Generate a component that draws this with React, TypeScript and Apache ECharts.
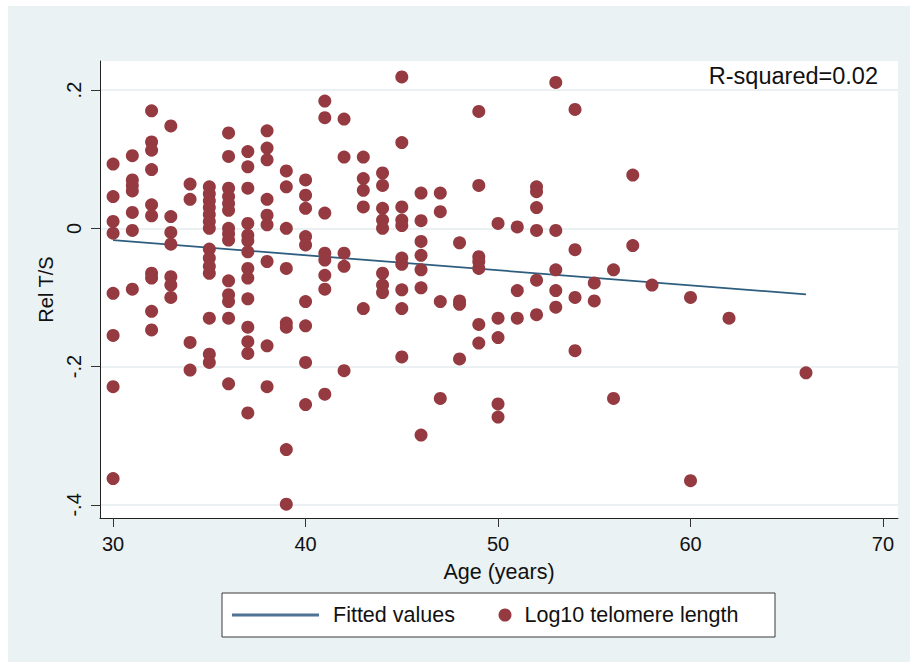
import React, { useEffect, useRef } from "react";
import * as echarts from "echarts";

// Axis ticks
const xTicks = [30, 40, 50, 60, 70];
const yTicks = [-0.4, -0.2, 0, 0.2];

// Ages (years) and the Rel T/S values observed at each age
const ages = [30, 31, 32, 33, 34, 35, 36, 37, 38, 39, 40, 41, 42, 43, 44, 45, 46, 47, 48, 49, 50, 51, 52, 53, 54, 55, 56, 57, 58, 60, 62, 66];
const relTSByAge = [
  [0.093, 0.046, 0.01, -0.007, -0.094, -0.155, -0.229, -0.362],
  [0.105, 0.07, 0.062, 0.054, 0.023, -0.003, -0.088],
  [0.17, 0.125, 0.113, 0.085, 0.034, 0.018, -0.065, -0.072, -0.12, -0.147],
  [0.148, 0.017, -0.006, -0.023, -0.07, -0.082, -0.1],
  [0.064, 0.042, -0.165, -0.205],
  [0.06, 0.05, 0.04, 0.03, 0.02, 0.01, 0.0, -0.03, -0.043, -0.055, -0.065, -0.13, -0.182, -0.194],
  [0.138, 0.104, 0.058, 0.046, 0.036, 0.026, 0.0, -0.008, -0.017, -0.076, -0.096, -0.106, -0.13, -0.225],
  [0.111, 0.089, 0.058, 0.007, -0.01, -0.018, -0.034, -0.058, -0.072, -0.102, -0.143, -0.164, -0.181, -0.267],
  [0.141, 0.116, 0.099, 0.042, 0.019, 0.005, -0.048, -0.17, -0.229],
  [0.083, 0.06, 0.0, -0.058, -0.137, -0.143, -0.32, -0.399],
  [0.07, 0.048, 0.029, -0.012, -0.024, -0.106, -0.141, -0.194, -0.255],
  [0.184, 0.16, 0.022, -0.036, -0.046, -0.068, -0.088, -0.24],
  [0.158, 0.103, -0.036, -0.055, -0.206],
  [0.103, 0.072, 0.055, 0.031, -0.116],
  [0.08, 0.062, 0.029, 0.012, 0.0, -0.065, -0.082, -0.093],
  [0.219, 0.124, 0.031, 0.012, 0.004, -0.043, -0.052, -0.089, -0.116, -0.186],
  [0.051, 0.011, -0.019, -0.039, -0.06, -0.086, -0.299],
  [0.051, 0.024, -0.106, -0.246],
  [-0.021, -0.105, -0.11, -0.189],
  [0.169, 0.062, -0.041, -0.048, -0.058, -0.139, -0.166],
  [0.007, -0.13, -0.158, -0.254, -0.273],
  [0.002, -0.09, -0.13],
  [0.06, 0.053, 0.03, -0.003, -0.075, -0.125],
  [0.211, -0.003, -0.06, -0.09, -0.114],
  [0.172, -0.031, -0.1, -0.177],
  [-0.079, -0.105],
  [-0.06, -0.246],
  [0.077, -0.025],
  [-0.082],
  [-0.1, -0.365],
  [-0.13],
  [-0.209],
];

// Fitted regression line (endpoints)
const fittedAges = [30, 66];
const fittedValues = [-0.0172, -0.0955];

const rSquaredLabel = "R-squared=0.02";
const xTitle = "Age (years)";
const yTitle = "Rel T/S";
const lineName = "Fitted values";
const pointName = "Log10 telomere length";

const FONT = "'Liberation Sans', Arial, Helvetica, sans-serif";

export default function App() {
  const ref = useRef<HTMLDivElement>(null);

  useEffect(() => {
    if (!ref.current) return;
    const chart = echarts.init(ref.current, null, { renderer: "svg" });

    const points: number[][] = [];
    ages.forEach((a, i) => relTSByAge[i].forEach((v) => points.push([a, v])));
    const fitted = fittedAges.map((a, i) => [a, fittedValues[i]]);

    const yFmt = (v: number) => {
      if (Math.abs(v) < 1e-9) return "0";
      const s = v.toFixed(1);
      return s.replace("0.", ".");
    };

    chart.setOption({
      animation: false,
      backgroundColor: "#ffffff",
      textStyle: { fontFamily: FONT },
      graphic: [
        {
          type: "rect",
          z: -10,
          silent: true,
          shape: { x: 8, y: 6, width: 902, height: 656 },
          style: { fill: "#EAF2F3" },
        },
        {
          type: "rect",
          z: 1,
          silent: true,
          shape: { x: 222, y: 593, width: 553, height: 44 },
          style: { fill: "#ffffff", stroke: "#3a3a3a", lineWidth: 1 },
        },
        {
          type: "text",
          z: 10,
          silent: true,
          x: 878,
          y: 76,
          style: {
            text: rSquaredLabel,
            fontSize: 23.5,
            fontFamily: FONT,
            fill: "#111111",
            align: "right",
            verticalAlign: "middle",
          },
        },
      ],
      grid: {
        left: 100,
        right: 12,
        top: 61,
        bottom: 144,
        show: true,
        backgroundColor: "#ffffff",
        borderWidth: 0,
      },
      xAxis: {
        type: "value",
        min: 29.32,
        max: 70.78,
        name: xTitle,
        nameLocation: "middle",
        nameGap: 43,
        nameTextStyle: { fontSize: 21.5, color: "#111111", fontFamily: FONT },
        axisLine: { show: true, onZero: false, lineStyle: { color: "#222222", width: 1 } },
        axisTick: { show: true, length: 9, customValues: xTicks, lineStyle: { color: "#333333" } },
        axisLabel: { customValues: xTicks, fontSize: 20, color: "#111111", margin: 16, fontFamily: FONT },
        splitLine: { show: false },
      },
      yAxis: {
        type: "value",
        min: -0.419,
        max: 0.242,
        name: yTitle,
        nameLocation: "middle",
        nameRotate: 90,
        nameGap: 38,
        nameTextStyle: { fontSize: 20, color: "#111111", fontFamily: FONT },
        axisLine: { show: true, onZero: false, lineStyle: { color: "#222222", width: 1 } },
        axisTick: { show: true, length: 9, customValues: yTicks, lineStyle: { color: "#333333" } },
        axisLabel: {
          customValues: yTicks,
          rotate: 90,
          fontSize: 20,
          color: "#111111",
          margin: 16,
          fontFamily: FONT,
          formatter: yFmt,
        },
        splitLine: { show: true, lineStyle: { color: "#E4EDEF", width: 1.5 } },
      },
      legend: [
        {
          data: [{ name: lineName, icon: "rect", itemStyle: { color: "#4F7392" } }],
          selectedMode: false,
          left: 232,
          top: 604,
          padding: 0,
          itemWidth: 87,
          itemHeight: 3,
          textStyle: { fontSize: 21.5, color: "#111111", fontFamily: FONT, padding: [0, 0, 0, 9] },
        },
        {
          data: [pointName],
          selectedMode: false,
          left: 498.5,
          top: 604,
          padding: 0,
          itemWidth: 13,
          itemHeight: 13,
          textStyle: { fontSize: 21.5, color: "#111111", fontFamily: FONT, padding: [0, 0, 0, 8] },
        },
      ],
      series: [
        {
          type: "line",
          name: lineName,
          data: fitted,
          symbol: "none",
          showSymbol: false,
          z: 2,
          lineStyle: { color: "#2F5D7F", width: 1.8 },
          itemStyle: { color: "#2F5D7F" },
        },
        {
          type: "scatter",
          name: pointName,
          data: points,
          symbol: "circle",
          symbolSize: 13,
          z: 3,
          clip: false,
          itemStyle: { color: "#943A40", opacity: 1 },
        },
      ],
    });

    return () => chart.dispose();
  }, []);

  return (
    <div
      ref={ref}
      style={{ position: "absolute", left: 0, top: 0, width: 910, height: 662 }}
    />
  );
}
